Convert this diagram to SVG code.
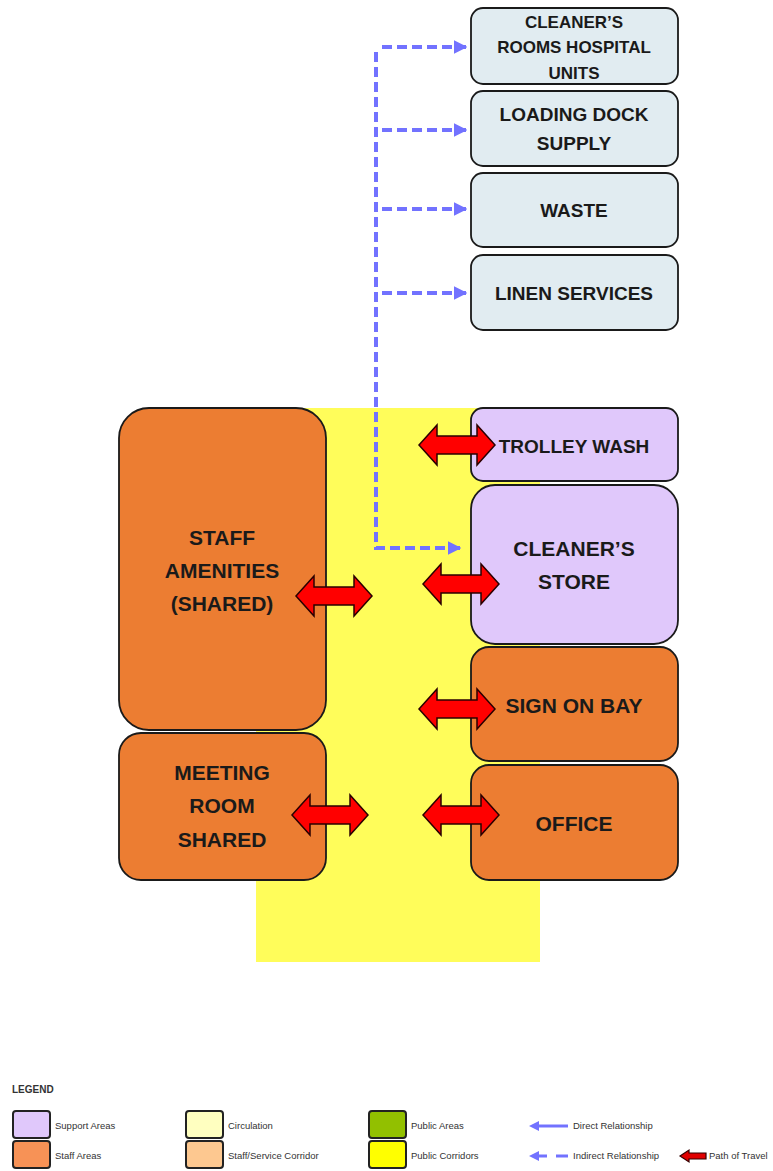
<svg xmlns="http://www.w3.org/2000/svg" xmlns:xlink="http://www.w3.org/1999/xlink" width="773" height="1171" viewBox="0 0 773 1171">
<style>
.box{stroke:#1a1a1a;stroke-width:1.8}
.svc{fill:#e1ecf1}
.sup{fill:#e0c8fb}
.stf{fill:#ec7d32}
.lbl{font-family:"Liberation Sans",Arial,sans-serif;font-weight:bold;fill:#1a1a1a;text-anchor:middle}
.dash{fill:none;stroke:#7272ff;stroke-width:4;stroke-dasharray:10 5}
.dbl{fill:#ff0000;stroke:#2a0000;stroke-width:1.5}
.lg{font-family:"Liberation Sans",Arial,sans-serif;font-size:9.5px;fill:#333}
.sw{stroke:#222;stroke-width:2}
</style>
<defs>
<marker id="bh" viewBox="0 0 10 10" refX="9" refY="5" markerWidth="3.4" markerHeight="3.6" orient="auto" markerUnits="strokeWidth">
<path d="M0,0 L10,5 L0,10 Z" fill="#7272ff"/>
</marker>
<path id="da" d="M-38,0 L-20,-20 L-20,-9 L20,-9 L20,-20 L38,0 L20,20 L20,9 L-20,9 L-20,20 Z"/>
</defs>
<rect x="256" y="408" width="284" height="554" fill="#fffd5a"/>
<g id="n-cleaners-rooms"><rect class="box svc" x="471" y="8" width="207" height="76" rx="12"/>
<text class="lbl" font-size="17"><tspan x="574" y="28">CLEANER’S</tspan><tspan x="574" y="53">ROOMS HOSPITAL</tspan><tspan x="574" y="79">UNITS</tspan></text></g>
<g id="n-loading-dock"><rect class="box svc" x="471" y="91" width="207" height="75" rx="12"/>
<text class="lbl" font-size="19"><tspan x="574" y="121">LOADING DOCK</tspan><tspan x="574" y="150">SUPPLY</tspan></text></g>
<g id="n-waste"><rect class="box svc" x="471" y="173" width="207" height="74" rx="12"/>
<text class="lbl" font-size="19" x="574" y="217">WASTE</text></g>
<g id="n-linen"><rect class="box svc" x="471" y="255" width="207" height="75" rx="12"/>
<text class="lbl" font-size="19" x="574" y="300">LINEN SERVICES</text></g>
<g id="n-staff-amenities"><rect class="box stf" x="119" y="408" width="207" height="322" rx="30"/>
<text class="lbl" font-size="21"><tspan x="222" y="545">STAFF</tspan><tspan x="222" y="578">AMENITIES</tspan><tspan x="222" y="611">(SHARED)</tspan></text></g>
<g id="n-meeting-room"><rect class="box stf" x="119" y="733" width="207" height="147" rx="22"/>
<text class="lbl" font-size="21"><tspan x="222" y="780">MEETING</tspan><tspan x="222" y="813">ROOM</tspan><tspan x="222" y="847">SHARED</tspan></text></g>
<g id="n-trolley-wash"><rect class="box sup" x="471" y="408" width="207" height="73" rx="12"/>
<text class="lbl" font-size="19" x="574" y="453">TROLLEY WASH</text></g>
<g id="n-cleaners-store"><rect class="box sup" x="471" y="485" width="207" height="159" rx="24"/>
<text class="lbl" font-size="21"><tspan x="574" y="556">CLEANER’S</tspan><tspan x="574" y="589">STORE</tspan></text></g>
<g id="n-sign-on-bay"><rect class="box stf" x="471" y="647" width="207" height="114" rx="18"/>
<text class="lbl" font-size="21" x="574" y="713">SIGN ON BAY</text></g>
<g id="n-office"><rect class="box stf" x="471" y="765" width="207" height="115" rx="18"/>
<text class="lbl" font-size="21" x="574" y="831">OFFICE</text></g>
<g id="connectors">
<path class="dash" d="M376,52 L376,548 L460,548" marker-end="url(#bh)"/>
<path class="dash" d="M382,47 L466,47" marker-end="url(#bh)"/>
<path class="dash" d="M382,130 L466,130" marker-end="url(#bh)"/>
<path class="dash" d="M382,209 L466,209" marker-end="url(#bh)"/>
<path class="dash" d="M382,293 L466,293" marker-end="url(#bh)"/>
<use href="#da" class="dbl" transform="translate(457,445)"/>
<use href="#da" class="dbl" transform="translate(461,584)"/>
<use href="#da" class="dbl" transform="translate(334,596)"/>
<use href="#da" class="dbl" transform="translate(457,709)"/>
<use href="#da" class="dbl" transform="translate(330,815)"/>
<use href="#da" class="dbl" transform="translate(461,815)"/>
</g>
<g id="legend">
<text x="12" y="1093" font-family="Liberation Sans,Arial,sans-serif" font-weight="bold" font-size="10" fill="#333">LEGEND</text>
<rect class="sw" x="13" y="1111" width="37" height="27" rx="3" fill="#e0c8fb"/>
<rect class="sw" x="13" y="1141" width="37" height="27" rx="3" fill="#f79256"/>
<text class="lg" x="55" y="1129">Support Areas</text>
<text class="lg" x="55" y="1159">Staff Areas</text>
<rect class="sw" x="186" y="1111" width="37" height="27" rx="3" fill="#ffffc0"/>
<rect class="sw" x="186" y="1141" width="37" height="27" rx="3" fill="#fdc890"/>
<text class="lg" x="228" y="1129">Circulation</text>
<text class="lg" x="228" y="1159">Staff/Service Corridor</text>
<rect class="sw" x="369" y="1111" width="37" height="27" rx="3" fill="#92c000"/>
<rect class="sw" x="369" y="1141" width="37" height="27" rx="3" fill="#ffff00"/>
<text class="lg" x="411" y="1129">Public Areas</text>
<text class="lg" x="411" y="1159">Public Corridors</text>
<path d="M568,1126 L537,1126" stroke="#7272ff" stroke-width="3"/>
<path d="M529,1126 L539,1121 L539,1131 Z" fill="#7272ff"/>
<text class="lg" x="573" y="1129">Direct Relationship</text>
<path d="M547,1156 L537,1156 M556,1156 L568,1156" stroke="#7272ff" stroke-width="3"/>
<path d="M529,1156 L539,1151 L539,1161 Z" fill="#7272ff"/>
<text class="lg" x="573" y="1159">Indirect Relationship</text>
<path d="M680,1156 L689,1150 L689,1153 L706,1153 L706,1159 L689,1159 L689,1162 Z" fill="#e00000" stroke="#300" stroke-width="1.2"/>
<text class="lg" x="709" y="1159">Path of Travel</text>
</g>
</svg>
